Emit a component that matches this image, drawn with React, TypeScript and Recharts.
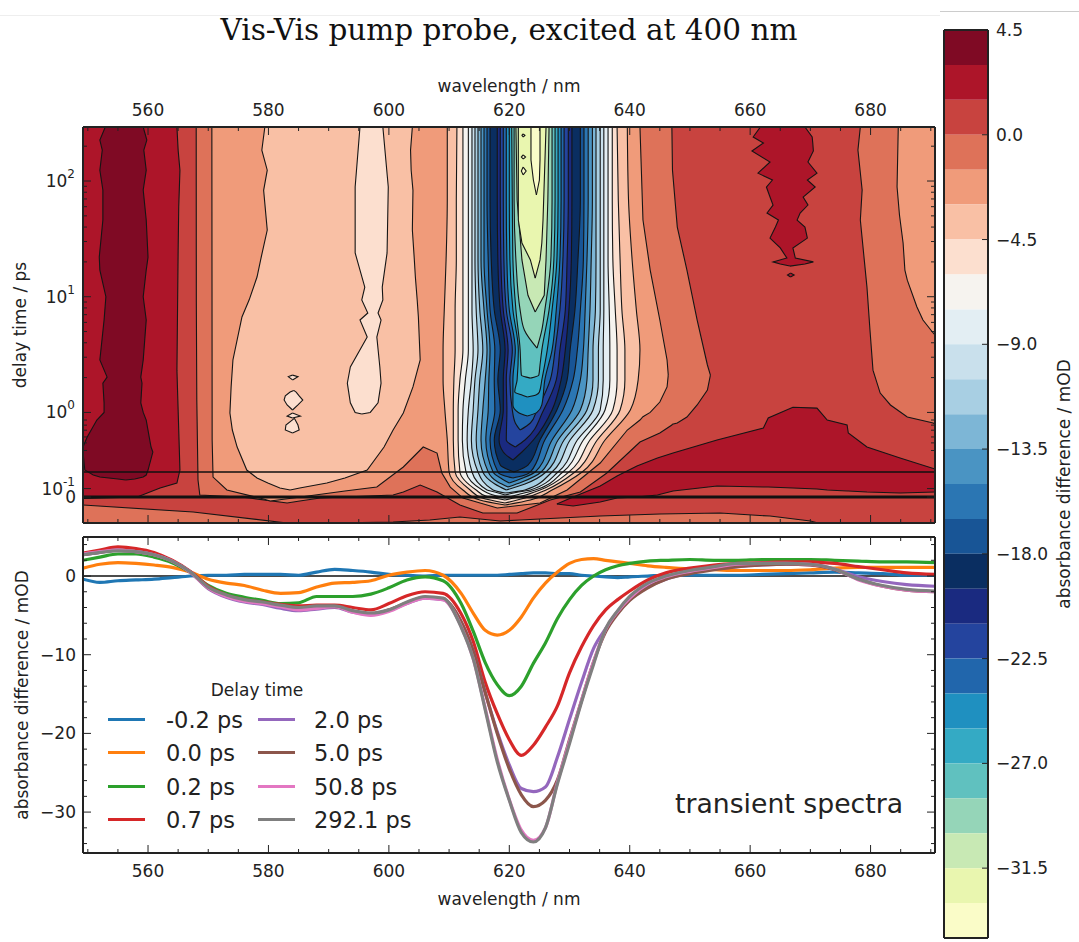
import React from 'react';
import { AreaChart, Area, ComposedChart, Line, BarChart, Bar, XAxis, YAxis, ReferenceLine, Legend } from 'recharts';

type Trip = [number, number, number];
const W = 1079, H = 942;
const FONT = 'DejaVu Sans';
const INK = '#222';
const LABEL = 17;

const bandColors = ['#7f0a24','#ad1529','#c8433f','#de7259','#f09b7a','#f9c0a5','#fcdfcf','#f6f3ef','#e3eef3','#c9e0ec','#a8cfe3','#7db6d6','#4a94c3','#2b76b3','#185596','#0a2e61','#1a2a80','#24449e','#2166ac','#1f90c0','#34aac4','#60c1bf','#95d5b8','#c8e9b4','#e9f6af','#fafcc8'];
const colorbarTicks = [4.5,0,-4.5,-9,-13.5,-18,-22.5,-27,-31.5];

const WAVE_MIN = 549.2, WAVE_MAX = 690.7;
const DELAY_MIN = -0.307, DELAY_MAX = 293;
// delay axis: linear up to 1 ps, logarithmic above
const tr = (d: number) => (d <= 1 ? 0.7312 * d : 0.7312 + Math.log10(d));

// --- contour outlines: V = [delay, left nm, right nm], H = [nm, low delay, high delay]
const baseField: Trip[] = [[293,WAVE_MIN,WAVE_MAX],[-0.307,WAVE_MIN,WAVE_MAX]];
const midPlateau: Trip[] = [[568,293,293],[568.02,9.37,293],[568.1,1.28,293],[568.3,0.201,293],[568.6,0.024,293],[575.3,0,293],[576.9,-0.012,293],[583.1,-0.071,293],[585.2,-0.047,293],[588.6,-0.012,293],[600.7,0.024,293],[602.4,0.059,293],[605.2,0.142,293],[608,0.059,293],[611.8,-0.095,293],[615.6,-0.189,293],[621.3,-0.189,293],[626.8,-0.035,293],[631.8,0.059,293],[636.2,0.284,293],[641.7,0.65,293],[645,0.757,293],[647,0.851,293],[647.1,0.86,124],[647.9,0.875,40],[649.5,0.946,17],[651.2,1.16,6.29],[652.9,1.56,2.57],[653.4,2.1,2.1]];
const bottomBand: Trip[] = [[549.2,-0.307,-0.095],[567.5,-0.307,-0.177],[583.1,-0.307,-0.307],[590.2,-0.307,-0.307],[600.7,-0.307,-0.296],[606.8,-0.307,-0.272],[611.8,-0.307,-0.236],[618.5,-0.307,-0.284],[621.8,-0.307,-0.272],[625.1,-0.307,-0.26],[635.1,-0.307,-0.225],[645,-0.307,-0.201],[655,-0.307,-0.189],[663.3,-0.307,-0.225],[670,-0.307,-0.284],[671.3,-0.307,-0.307]];
const redLens: Trip[] = [[627.9,-0.083,-0.083],[630.6,-0.106,0],[635.1,-0.059,0.13],[637.9,-0.012,0.248],[641.2,0,0.366],[644.6,0.024,0.461],[647.2,0.071,0.52],[654.5,0.13,0.674],[662.2,0.118,0.816],[663,0.118,0.934],[667.1,0.106,1.11],[671.1,0.095,1.09],[672.8,0.083,0.91],[676.1,0.071,0.851],[676.3,0.071,0.757],[679.4,0.059,0.591],[684.9,0.047,0.461],[690.7,0.059,0.331]];
const leftRed: Trip[] = [[293,549.2,564.8],[185,549.2,565],[124,549.2,565.3],[60,549.2,565.1],[25,549.2,565],[2.32,549.2,564.8],[0.319,549.2,565.3],[0.165,549.2,564.8],[0.106,549.2,562],[0,549.2,558.2],[-0.018,549.2,549.2]];
const leftDark: Trip[] = [[293,552.9,559.2],[226,552,559.8],[185,552.4,559.3],[124,552,559.7],[83.6,552.5,559.2],[46,552.5,559.7],[22,551.9,560],[17,552,559.7],[10,553,559.2],[6.29,552.7,559.7],[2.84,552,559.2],[2.02,553.2,558.8],[1.79,552.5,559],[1.21,552.7,558.8],[1,552.7,559.2],[0.91,551.5,559.7],[0.709,549.9,560.2],[0.591,549.2,560.5],[0.532,549.2,560.8],[0.319,549.5,560],[0.26,550.9,559.7],[0.236,552,559.2],[0.213,555,557.8],[0.201,556.3,556.3]];
const plateauSalmon: Trip[] = [[570.6,293,293],[570.65,0.674,293],[570.8,0.236,293],[573.1,0.083,293],[578.6,-0.012,293],[580.3,-0.047,293],[584.1,-0.012,293],[592.7,0.071,293],[598,0.118,293],[602.4,0.355,293],[605.7,0.591,293],[608,0.52,293],[608.8,0.284,293],[610.2,0.118,293],[612.3,-0.012,293],[618,-0.13,293],[625.1,-0.071,293],[629.6,0.083,293],[635.1,0.402,293],[639.6,0.792,293],[641.7,0.91,293],[642.2,0.95,46],[643.4,1,17],[645,1.23,6.29],[646.2,1.66,2.84],[646.4,2.1,2.1]];
const rightSalmonRed: Trip[] = [[293,678.3,WAVE_MAX],[185,677.9,WAVE_MAX],[83.6,678.6,WAVE_MAX],[46,678.3,WAVE_MAX],[12.1,679.4,WAVE_MAX],[5.15,679.9,WAVE_MAX],[2.32,680.4,WAVE_MAX],[1.47,681.6,WAVE_MAX],[1.16,683.3,WAVE_MAX],[0.946,686.1,WAVE_MAX],[0.875,690.4,WAVE_MAX],[0.863,WAVE_MAX,WAVE_MAX]];
const rightSalmon: Trip[] = [[293,684.6,WAVE_MAX],[88.7,684.4,WAVE_MAX],[50.8,684.8,WAVE_MAX],[29.1,685.4,WAVE_MAX],[17,685.7,WAVE_MAX],[13.9,686.1,WAVE_MAX],[8.15,687.7,WAVE_MAX],[6.29,688.7,WAVE_MAX],[4.86,690.4,WAVE_MAX],[4.67,WAVE_MAX,WAVE_MAX]];
const redIsland: Trip[] = [[293,661.7,669.1],[240,660.5,670.3],[213,662.2,670.4],[182,660.3,670.5],[146,663.3,669.6],[117,661.3,671.1],[102,663.7,669.5],[88.7,662.7,670.8],[72.7,663.3,668.8],[62,663.8,669.6],[52.9,662.8,668.3],[46,664.7,667.8],[40,664.2,669.1],[32.1,663.3,669.5],[26.4,665,667.1],[21.6,666.1,667.5],[20,663.8,670.5],[19.2,665,669.1],[18.4,666.6,666.6]];
const redIslet: Trip[] = [[16,666.7,666.7],[15.4,666.2,667.3],[14.8,666.7,666.7]];
const paleLobe: Trip[] = [[293,579.4,603.9],[185,578.9,603.6],[124,579.8,603.7],[83,579.2,604],[37.7,579.8,603.9],[22,578.8,604.2],[14.8,578.1,604.4],[9.4,576.8,604.7],[6.68,575.6,604.9],[2.84,574.1,605.2],[1.66,573.8,604],[0.993,573.6,602.4],[0.792,574,600.7],[0.591,574.8,599.2],[0.319,576.4,596.4],[0.225,578.1,592.7],[0.165,579.9,589.7],[0.106,581.9,585.2],[0.083,583.6,583.6]];
const paleStripe: Trip[] = [[293,595.2,599],[88.7,594.4,599.9],[23.9,594.4,599.7],[12.1,596,598.9],[9.37,595.5,599],[7.23,596.5,598.2],[6.29,595.2,598.7],[4.48,596.4,598],[2.47,593.6,598.5],[1.79,593.1,598.7],[1.21,593.6,598.2],[1,594.4,596.9],[0.981,595.5,595.5]];
const fleck1: Trip[] = [[2.1,584,584],[2.04,583.3,584.9],[1.91,584,584]];
const fleck2: Trip[] = [[1.55,584.2,584.2],[1.5,583.6,584.6],[1.39,582.8,585.1],[1.28,582.6,585.7],[1.16,583.1,584.9],[1.05,584,584]];
const fleck3: Trip[] = [[0.993,584,584],[0.957,583.1,585.3],[0.934,584,584]];
const fleck4: Trip[] = [[0.93,584.3,584.3],[0.851,582.9,584.9],[0.792,582.8,585.1],[0.757,584,584]];
const isle1: Trip[] = [[255,622.3,622.3],[248,622.1,622.6],[240,622.3,622.3]];
const isle2: Trip[] = [[168,622.3,622.3],[161,622,622.7],[155,622.3,622.3]];
const isle3: Trip[] = [[132,622.3,622.3],[122,622,622.8],[113,622.3,622.3]];

const wellRows = [293,68.5,20.8,7.67,3.46,1.91,1.05,0.674,0.296,0.083];
type Well = { band: number; left: number[]; right: number[]; tail: Trip[] };
const wells: Well[] = [
  { band: 5, left: [609.7,609.7,609.5,609.2,609,609,609.3,609.7,610,612.3], right: [639.6,639.8,640.4,641.1,641.7,641.4,640.1,635.9,632.1,627.1], tail: [[-0.035,615.1,623.5],[-0.095,619.3,619.3]] },
  { band: 6, left: [611.3,611.2,611.2,611,611,610.8,610.7,610.7,611,613.5], right: [637.9,638.1,638.4,638.7,639.2,639.2,638.4,634.6,630.9,626.1], tail: [[-0.012,615.5,622.6],[-0.071,619.3,619.3]] },
  { band: 7, left: [612.3,612.3,612.3,612.3,612.3,611.8,611.5,611.5,611.8,614.5], right: [637.1,637.1,637.2,637.6,637.9,637.9,637.2,633.4,629.9,625.1], tail: [[0.012,616.1,622.1],[-0.035,619.3,619.3]] },
  { band: 8, left: [613.2,613.2,613.2,613.2,613.2,612.7,612.3,612.2,612.8,615.5], right: [636.4,636.4,636.4,636.6,636.7,636.7,635.9,632.3,628.9,624.3], tail: [[0.035,616.8,621.8],[-0.012,619.3,619.3]] },
  { band: 9, left: [613.8,613.8,613.8,613.8,614,613.7,613.2,613,613.8,616.3], right: [635.7,635.7,635.7,635.7,635.6,635.6,635.1,631.3,628.1,623.5], tail: [[0.059,617.6,621.5],[0.024,619.3,619.3]] },
  { band: 10, left: [614.3,614.3,614.3,614.5,614.8,614.3,614,613.7,614.8,617.3], right: [635.1,635.1,635.1,635.1,634.8,634.8,633.9,630.1,627.1,622.6], tail: [[0.047,619.3,619.3]] },
  { band: 11, left: [614.8,614.8,614.8,615.1,615.6,615.1,614.8,614.5,615.6], right: [634.4,634.4,634.4,634.3,633.9,633.9,632.9,629.1,626.1], tail: [[0.154,617.6,622.6],[0.083,619.5,619.5]] },
  { band: 12, left: [615.3,615.3,615.3,615.8,616.3,616,615.6,615.3,616.5], right: [633.8,633.8,633.6,633.4,633.1,632.9,631.8,628.1,625.3], tail: [[0.177,618.1,622.1],[0.118,619.8,619.8]] },
  { band: 13, left: [615.8,615.8,615.8,616.3,616.8,616.6,616.5,616.1,617.3], right: [633.1,633.1,632.9,632.6,632.3,631.8,630.4,627.1,624.3], tail: [[0.213,618.8,621.8],[0.165,620,620]] },
  { band: 14, left: [616.3,616.3,616.5,616.8,617.6,617.5,617.6,616.8,618.1], right: [632.4,632.4,632.3,631.8,631.3,630.6,628.9,625.9,623.5], tail: [[0.248,619.3,622.1],[0.225,620.6,620.6]] },
  { band: 15, left: [616.8,616.8,617,617.5,618.5,618.1,618.5,617.5], right: [631.8,631.8,631.4,630.9,630.1,629.6,627.9,625.1], tail: [[0.378,618.5,623.1],[0.296,620.8,620.8]] },
  { band: 16, left: [618,618,618.1,618.5,619.3,619,619,618.3], right: [630.4,630.4,630.3,629.9,629.3,628.6,627.1,624], tail: [[0.532,619,622.1],[0.437,620.6,620.6]] },
  { band: 17, left: [618.5,618.5,618.6,619,619.8,619.5,619.6,619.5], right: [629.8,629.8,629.6,629.3,628.4,627.8,625.7,622.6], tail: [[0.591,621,621]] },
  { band: 18, left: [619,619,619.1,619.5,620.5,620.1,620.5], right: [629.1,629.1,628.9,628.4,627.6,626.8,624.6], tail: [[0.875,621,623.5],[0.792,621.8,621.8]] },
  { band: 19, left: [619.5,619.5,619.6,620,621,620.6], right: [628.6,628.6,628.4,627.8,627.1,625.9], tail: [[1.16,620.6,625.4],[1,621.5,624.6],[0.957,623,623]] },
  { band: 20, left: [620,620,620.1,620.6,621.5,621.3], right: [628.1,628.1,627.9,627.1,626.3,625.4], tail: [[1.5,620.9,625],[1.42,622,624.5],[1.36,623,623]] },
  { band: 21, left: [620.4,620.5,620.6,621.1,621.8], right: [627.6,627.6,627.4,626.6,625.4], tail: [[2.57,621.9,625.1],[2.1,622,624.9],[1.98,623.5,623.5]] },
  { band: 22, left: [620.8,620.8,621.1,621.8], right: [627.1,627.1,626.9,625.9], tail: [[5.15,622.5,625.4],[3.6,624.6,624.6]] },
];
const well23: Trip[] = [[293,621.1,626.6],[68.5,621.3,626.4],[20.8,622.1,626.1],[10.3,623.1,625.8],[7.38,624.3,624.3]];
const well24: Trip[] = [[293,621.5,626.1],[46,621.5,625.6],[29.1,622.1,625.4],[20.8,623.5,625.1],[14.5,624.3,624.3]];
const well25: Trip[] = [[293,623.6,625.1],[152,623.6,625.1],[102,624,625],[75.7,624.5,624.5]];

// --- transient spectra
const wavelengths = [549.2,552,555,558,561,564,567,570,573,576,579,582,585,588,591,594,597,600,603,606,609,612,614,616,618,620,622,624,626,628,630,632,634,636,638,640,643,646,650,654,658,662,666,670,674,678,682,686,690.7];
const spec_m02 = [-0.4,-0.8,-0.6,-0.5,-0.4,-0.2,0,0.1,0.1,0.2,0.2,0.2,0.1,0.5,0.85,0.7,0.5,0.2,0.1,0,0.1,0.1,0.1,0.1,0.1,0.2,0.3,0.4,0.4,0.3,0.3,0.1,0,-0.1,-0.2,-0.1,0,0.1,0.1,0.1,0.1,0.2,0.3,0.4,0.5,0.4,0.3,0.1,0.1];
const spec_00 = [1,1.5,1.7,1.6,1.4,1.1,0.5,-0.4,-0.9,-1.2,-1.8,-2.2,-2.1,-1.4,-0.9,-0.8,-0.6,0.1,0.5,0.7,0.1,-2.2,-4.7,-6.9,-7.5,-6.9,-5.2,-2.8,-0.9,0.5,1.6,2.1,2.2,2,1.8,1.6,1.3,1.1,0.9,0.8,0.7,0.7,0.7,0.8,1,1.1,1.1,1.1,1.1];
const spec_02 = [2,2.4,2.8,2.8,2.4,1.7,0.5,-1.2,-2.2,-2.7,-3.1,-3.5,-3.4,-2.6,-2.6,-2.6,-2.3,-1.5,-0.5,-0.1,-0.6,-3.5,-7,-11,-13.8,-15.2,-14,-11.1,-8.5,-5.4,-3,-1.2,0,0.8,1.3,1.6,1.9,2,2.1,2,2,2.1,2.1,2.1,2,1.9,1.8,1.8,1.7];
const spec_07 = [2.9,3.3,3.7,3.5,3,2,0.6,-1.3,-2.4,-3,-3.3,-3.6,-3.8,-3.7,-3.7,-4,-4.3,-3.5,-2.5,-2,-2.2,-4.8,-8.3,-13.5,-17.5,-20.8,-22.8,-21.5,-19.2,-16.5,-12.3,-9,-6.3,-4.3,-3,-1.9,-0.5,0.4,1,1.4,1.6,1.7,1.8,1.8,1.6,1.2,0.8,0.4,0.2];
const spec_20 = [2.7,3,3.3,3.1,2.7,1.9,0.5,-1.6,-2.7,-3.3,-3.6,-4.1,-4.4,-4.2,-4,-4.6,-4.9,-4.4,-3.5,-2.8,-3,-5.8,-9.5,-14.8,-19.8,-24,-27,-27.4,-26.8,-23,-18.2,-13.5,-9.2,-6.7,-4.6,-3,-1.4,-0.4,0.4,0.9,1.2,1.4,1.5,1.4,0.9,-0.1,-0.7,-1.1,-1.3];
const spec_50 = [2.7,3,3.3,3.1,2.7,1.9,0.5,-1.5,-2.5,-3.1,-3.4,-3.8,-4.1,-3.9,-3.9,-4.5,-4.8,-4.3,-3.4,-2.7,-2.9,-5.8,-9.5,-14.8,-20,-24.5,-27.8,-29.3,-28.5,-25.9,-20.8,-15.8,-10.9,-7.1,-4.8,-3.1,-1.5,-0.4,0.3,0.8,1.2,1.4,1.5,1.4,0.8,-0.4,-1.3,-1.8,-2];
const spec_508 = [2.8,3.1,3.3,3.1,2.7,1.9,0.5,-1.5,-2.6,-3.2,-3.5,-3.9,-4.3,-4.1,-3.9,-4.6,-5,-4.5,-3.5,-2.8,-3,-6.4,-10.5,-16.8,-23.3,-28.4,-32.3,-33.6,-32,-26.2,-21,-15.8,-10.9,-6.8,-4.5,-2.8,-1,-0.1,0.6,1.1,1.5,1.6,1.6,1.5,0.9,-0.5,-1.3,-1.8,-2];
const spec_2921 = [2.7,3,3.2,3.1,2.7,1.9,0.55,-1.4,-2.4,-3,-3.3,-3.7,-4,-3.8,-3.8,-4.4,-4.7,-4.3,-3.3,-2.6,-2.8,-6.5,-10.5,-17,-23.6,-28.5,-32.6,-33.8,-32,-26.4,-21.3,-16,-11.2,-6.7,-4.4,-2.6,-0.9,0,0.7,1.2,1.6,1.6,1.6,1.5,0.9,-0.4,-1.2,-1.7,-1.9];
const seriesNames = ['-0.2 ps','0.0 ps','0.2 ps','0.7 ps','2.0 ps','5.0 ps','50.8 ps','292.1 ps'];
const seriesValues = [spec_m02,spec_00,spec_02,spec_07,spec_20,spec_50,spec_508,spec_2921];
const seriesColors = ['#1f77b4','#ff7f0e','#2ca02c','#d62728','#9467bd','#8c564b','#e377c2','#7f7f7f'];
const spectra = wavelengths.map((w, i) => {
  const row: Record<string, number> = { w };
  seriesNames.forEach((n, s) => { row[n] = seriesValues[s][i]; });
  return row;
});

const waveTicks = [550,555,560,565,570,575,580,585,590,595,600,605,610,615,620,625,630,635,640,645,650,655,660,665,670,675,680,685,690];
const spectrumTicks = [4,2,0,-2,-4,-6,-8,-10,-12,-14,-16,-18,-20,-22,-24,-26,-28,-30,-32,-34];
const delayMajor = [100,10,1,0.1,0];
const delayMinor = [0.55,0.64,0.71,0.79,0.85,0.91,2,3,4,5,6,7,8,9,20,30,40,50,60,70,80,90,200];

const minus = (s: string) => s.replace('-', '\u2212');

type Side = 'left' | 'right' | 'top' | 'bottom';
function tickMark(p: any, side: Side, len: number) {
  const { x, y } = p;
  const dx = side === 'left' ? len : side === 'right' ? -len : 0;
  const dy = side === 'top' ? len : side === 'bottom' ? -len : 0;
  return <line x1={x} y1={y} x2={x + dx} y2={y + dy} stroke={INK} strokeWidth={1} />;
}

function waveTick(side: Side, labelled: boolean) {
  return (p: any) => {
    const major = p.payload.value % 20 === 0;
    const ty = side === 'top' ? p.y - 17 : p.y + 18;
    return (
      <g key={`${side}${p.payload.value}`}>
        {tickMark(p, side, major ? 8 : 4)}
        {labelled && major ? <text x={p.x} y={ty} textAnchor="middle" fontFamily={FONT} fontSize={LABEL} fill={INK} dominantBaseline="central">{p.payload.value}</text> : null}
      </g>
    );
  };
}

function delayTick(side: Side) {
  return (p: any) => {
    const major = delayMajor.find((d) => Math.abs(tr(d) - p.payload.value) < 1e-6);
    const expo: Record<string, string> = { '100': '2', '10': '1', '1': '0', '0.1': '-1' };
    return (
      <g key={`${side}${p.payload.value}`}>
        {tickMark(p, side, major !== undefined ? 8 : 4)}
        {side === 'left' && major !== undefined ? (
          major === 0 ? (
            <text x={76} y={p.y} textAnchor="end" dominantBaseline="central" fontFamily={FONT} fontSize={LABEL} fill={INK}>0</text>
          ) : (
            <text x={75} y={p.y} textAnchor="end" dominantBaseline="central" fontFamily={FONT} fontSize={LABEL} fill={INK}>
              10<tspan dy={-7} fontSize={12}>{expo[String(major)]}</tspan>
            </text>
          )
        ) : null}
      </g>
    );
  };
}

function spectrumTick(side: Side) {
  return (p: any) => {
    const major = p.payload.value % 10 === 0;
    return (
      <g key={`${side}${p.payload.value}`}>
        {tickMark(p, side, major ? 8 : 4)}
        {side === 'left' && major ? <text x={p.x - 7} y={p.y} textAnchor="end" dominantBaseline="central" fontFamily={FONT} fontSize={LABEL} fill={INK}>{minus(String(p.payload.value))}</text> : null}
      </g>
    );
  };
}

function colorbarTick(p: any) {
  const v = p.payload.value;
  return (
    <g key={v}>
      {tickMark(p, 'right', 6)}
      <text x={p.x + 8} y={p.y} dominantBaseline="central" fontFamily={FONT} fontSize={LABEL} fill={INK}>{minus(v.toFixed(1))}</text>
    </g>
  );
}

const PLOT = { left: 83, right: 935, top: 127, bottom: 523 };
const hiddenMargin = { top: PLOT.top, left: PLOT.left, right: W - PLOT.right, bottom: H - PLOT.bottom };
const layerStyle: React.CSSProperties = { position: 'absolute', left: 0, top: 0 };
const T_DOMAIN: [number, number] = [tr(DELAY_MIN), tr(DELAY_MAX)];
const W_DOMAIN: [number, number] = [WAVE_MIN, WAVE_MAX];

type Region = { id: string; pts: Trip[]; band: number; line?: boolean; curve?: 'linear' | 'monotone' };

function renderArea(r: Region, data: any[]) {
  return (
    <Area
      key={r.id}
      data={data}
      dataKey="range"
      type={r.curve ?? 'linear'}
      fill={bandColors[r.band]}
      fillOpacity={1}
      stroke={r.line === false ? 'none' : '#151515'}
      strokeWidth={1.1}
      dot={false}
      activeDot={false}
      isAnimationActive={false}
    />
  );
}

function VLayer({ regions }: { regions: Region[] }) {
  return (
    <AreaChart width={W} height={H} layout="vertical" margin={hiddenMargin} style={layerStyle}>
      <XAxis type="number" hide domain={W_DOMAIN} allowDataOverflow />
      <YAxis type="number" hide reversed dataKey="t" domain={T_DOMAIN} allowDataOverflow />
      {regions.map((r) => renderArea(r, r.pts.map(([d, l, h]) => ({ t: tr(d), range: [l, h] }))))}
    </AreaChart>
  );
}

function HLayer({ regions }: { regions: Region[] }) {
  return (
    <AreaChart width={W} height={H} margin={hiddenMargin} style={layerStyle}>
      <XAxis type="number" hide dataKey="w" domain={W_DOMAIN} allowDataOverflow />
      <YAxis type="number" hide domain={T_DOMAIN} allowDataOverflow />
      {regions.map((r) => renderArea(r, r.pts.map(([w, lo, hi]) => ({ w, range: [tr(lo), tr(hi)] }))))}
    </AreaChart>
  );
}

const wellRegions: Region[] = wells.map((k) => ({
  id: `well${k.band}`,
  band: k.band,
  curve: 'monotone',
  pts: [...k.left.map((l, i) => [wellRows[i], l, k.right[i]] as Trip), ...k.tail],
}));

const topRegions: Region[] = [
  { id: 'rightSalmonRed', pts: rightSalmonRed, band: 3 },
  { id: 'rightSalmon', pts: rightSalmon, band: 4 },
  { id: 'redIsland', pts: redIsland, band: 1 },
  { id: 'redIslet', pts: redIslet, band: 1 },
  { id: 'paleLobe', pts: paleLobe, band: 5 },
  { id: 'paleStripe', pts: paleStripe, band: 6 },
  { id: 'fleck1', pts: fleck1, band: 6 },
  { id: 'fleck2', pts: fleck2, band: 6 },
  { id: 'fleck3', pts: fleck3, band: 6 },
  { id: 'fleck4', pts: fleck4, band: 6 },
  ...wellRegions,
  { id: 'well23', pts: well23, band: 23 },
  { id: 'well24', pts: well24, band: 24 },
  { id: 'well25', pts: well25, band: 25 },
  { id: 'isle1', pts: isle1, band: 25 },
  { id: 'isle2', pts: isle2, band: 25 },
  { id: 'isle3', pts: isle3, band: 25 },
];

const axisFrame = { stroke: INK, strokeWidth: 2 };
const waveAnchors = [{ w: WAVE_MIN }, { w: WAVE_MAX }];

function ContourAxes() {
  return (
    <ComposedChart data={waveAnchors} width={W} height={H} margin={{ top: PLOT.top - 45, left: PLOT.left - 63, right: W - PLOT.right - 10, bottom: H - PLOT.bottom - 10 }} style={layerStyle}>
      <XAxis xAxisId="b" dataKey="w" type="number" orientation="bottom" domain={W_DOMAIN} allowDataOverflow ticks={waveTicks} interval={0} height={10} tickSize={0} tickMargin={0} tickLine={false} axisLine={axisFrame} tick={waveTick('bottom', false)} />
      <XAxis xAxisId="t" dataKey="w" type="number" orientation="top" domain={W_DOMAIN} allowDataOverflow ticks={waveTicks} interval={0} height={45} tickSize={0} tickMargin={0} tickLine={false} axisLine={axisFrame} tick={waveTick('top', true)} label={{ value: 'wavelength / nm', position: 'insideTop', offset: -2, fontFamily: FONT, fontSize: LABEL, fill: INK }} />
      <YAxis yAxisId="l" type="number" orientation="left" domain={T_DOMAIN} allowDataOverflow ticks={[...delayMajor, ...delayMinor].map(tr)} interval={0} width={63} tickSize={0} tickMargin={0} tickLine={false} axisLine={axisFrame} tick={delayTick('left')} label={{ value: 'delay time / ps', angle: -90, position: 'insideLeft', offset: 0, fontFamily: FONT, fontSize: LABEL, fill: INK, style: { textAnchor: 'middle' } }} />
      <YAxis yAxisId="r" type="number" orientation="right" domain={T_DOMAIN} allowDataOverflow ticks={[...delayMajor, ...delayMinor].map(tr)} interval={0} width={10} tickSize={0} tickMargin={0} tickLine={false} axisLine={axisFrame} tick={delayTick('right')} />
      <ReferenceLine xAxisId="b" yAxisId="l" y={tr(0.296)} stroke="#111" strokeWidth={1.5} />
      <ReferenceLine xAxisId="b" yAxisId="l" y={tr(0)} stroke="#111" strokeWidth={3} />
    </ComposedChart>
  );
}

function SpectraLegend({ payload }: any) {
  return (
    <div style={{ position: 'absolute', left: 0, top: 0, fontFamily: FONT, color: INK }}>
      <div style={{ position: 'absolute', left: 157, top: 681, width: 200, textAlign: 'center', fontSize: LABEL, lineHeight: '18px' }}>Delay time</div>
      {(payload ?? []).map((e: any, i: number) => {
        const col = i < 4 ? 0 : 1;
        const row = i % 4;
        return (
          <div key={e.value} style={{ position: 'absolute', left: col ? 258 : 108, top: 708 + row * 33.4, width: 150, height: 24, whiteSpace: 'nowrap' }}>
            <div style={{ position: 'absolute', left: 0, top: 10, width: 37, height: 3, background: e.color }} />
            <div style={{ position: 'absolute', left: col ? 56 : 58, top: 0, fontSize: 22.5, lineHeight: '24px' }}>{e.value}</div>
          </div>
        );
      })}
    </div>
  );
}

function SpectraChart() {
  const top = 537, bottom = 853;
  return (
    <ComposedChart data={spectra} width={W} height={H} margin={{ top: top - 10, left: PLOT.left - 63, right: W - PLOT.right - 10, bottom: H - bottom - 55 }} style={layerStyle}>
      <XAxis dataKey="w" type="number" orientation="bottom" domain={W_DOMAIN} allowDataOverflow ticks={waveTicks} interval={0} height={55} tickSize={0} tickMargin={0} tickLine={false} axisLine={axisFrame} tick={waveTick('bottom', true)} label={{ value: 'wavelength / nm', position: 'insideBottom', offset: 3, fontFamily: FONT, fontSize: LABEL, fill: INK }} />
      <XAxis xAxisId="t" dataKey="w" type="number" orientation="top" domain={W_DOMAIN} allowDataOverflow ticks={waveTicks} interval={0} height={10} tickSize={0} tickMargin={0} tickLine={false} axisLine={axisFrame} tick={waveTick('top', false)} />
      <YAxis type="number" orientation="left" domain={[-35.2, 4.96]} allowDataOverflow ticks={spectrumTicks} interval={0} width={63} tickSize={0} tickMargin={0} tickLine={false} axisLine={axisFrame} tick={spectrumTick('left')} label={{ value: 'absorbance difference / mOD', angle: -90, position: 'insideLeft', offset: 2, fontFamily: FONT, fontSize: LABEL, fill: INK, style: { textAnchor: 'middle' } }} />
      <YAxis yAxisId="r" type="number" orientation="right" domain={[-35.2, 4.96]} allowDataOverflow ticks={spectrumTicks} interval={0} width={10} tickSize={0} tickMargin={0} tickLine={false} axisLine={axisFrame} tick={spectrumTick('right')} />
      <ReferenceLine y={0} stroke="#111" strokeWidth={1.5} />
      {seriesNames.map((n, i) => (
        <Line key={n} dataKey={n} name={n} type="monotone" stroke={seriesColors[i]} strokeWidth={3.2} dot={false} activeDot={false} isAnimationActive={false} />
      ))}
      <Legend layout="horizontal" verticalAlign="middle" align="left" itemSorter={null} content={<SpectraLegend />} wrapperStyle={{ left: 0, top: 0, width: 1, height: 1 }} />
    </ComposedChart>
  );
}

const colorbarRow: Record<string, number | string> = { cat: 'mOD' };
const colorbarOrder = bandColors.map((_, i) => i).sort((a, b) => (a < 3 && b < 3 ? b - a : a - b));
colorbarOrder.forEach((i) => { colorbarRow[`band${i}`] = i < 3 ? 1.5 : -1.5; });
const CB_DOMAIN: [number, number] = [-34.5, 4.5];

function Colorbar() {
  return (
    <>
      <BarChart data={[colorbarRow]} width={W} height={H} stackOffset="sign" barCategoryGap={0} margin={{ top: 30, left: 944, right: 91, bottom: 4 }} style={layerStyle}>
        <XAxis dataKey="cat" hide />
        <YAxis type="number" hide domain={CB_DOMAIN} allowDataOverflow />
        {colorbarOrder.map((i) => (
          <Bar key={i} dataKey={`band${i}`} stackId="cb" fill={bandColors[i]} isAnimationActive={false} />
        ))}
      </BarChart>
      <ComposedChart data={[colorbarRow]} width={W} height={H} margin={{ top: 28, left: 942, right: 0, bottom: 2 }} style={layerStyle}>
        <XAxis dataKey="cat" orientation="bottom" height={2} tick={false} tickLine={false} axisLine={axisFrame} />
        <XAxis xAxisId="t" dataKey="cat" orientation="top" height={2} tick={false} tickLine={false} axisLine={axisFrame} />
        <YAxis yAxisId="l" type="number" orientation="left" width={2} domain={CB_DOMAIN} tick={false} tickLine={false} axisLine={axisFrame} />
        <YAxis type="number" orientation="right" width={91} domain={CB_DOMAIN} allowDataOverflow ticks={colorbarTicks} interval={0} tickSize={0} tickMargin={0} tickLine={false} axisLine={axisFrame} tick={colorbarTick} label={{ value: 'absorbance difference / mOD', angle: -90, position: 'insideRight', offset: 15, fontFamily: FONT, fontSize: LABEL, fill: INK, style: { textAnchor: 'middle' } }} />
      </ComposedChart>
    </>
  );
}

export default function App() {
  return (
    <div style={{ position: 'absolute', left: 0, top: 0, width: W, height: H, background: '#fff', overflow: 'hidden' }}>
      <div style={{ position: 'absolute', left: 0, top: 15, width: 940, height: 1, background: '#eee' }} />
      <div style={{ position: 'absolute', left: 940, top: 11, width: 139, height: 1, background: '#ccc' }} />
      <div style={{ position: 'absolute', left: 0, top: 12, width: 1018, textAlign: 'center', fontFamily: 'DejaVu Serif', fontSize: 29.5, lineHeight: '36px', color: '#111' }}>Vis-Vis pump probe, excited at 400 nm</div>
      <VLayer regions={[{ id: 'base', pts: baseField, band: 2, line: false }]} />
      <HLayer regions={[{ id: 'midPlateau', pts: midPlateau, band: 3 }, { id: 'bottomBand', pts: bottomBand, band: 3 }, { id: 'redLens', pts: redLens, band: 1 }]} />
      <VLayer regions={[{ id: 'leftRed', pts: leftRed, band: 1 }, { id: 'leftDark', pts: leftDark, band: 0 }]} />
      <HLayer regions={[{ id: 'plateauSalmon', pts: plateauSalmon, band: 4 }]} />
      <VLayer regions={topRegions} />
      <ContourAxes />
      <SpectraChart />
      <div style={{ position: 'absolute', left: 675, top: 787, fontFamily: FONT, fontSize: 26.7, lineHeight: '34px', color: INK, whiteSpace: 'nowrap' }}>transient spectra</div>
      <Colorbar />
    </div>
  );
}
